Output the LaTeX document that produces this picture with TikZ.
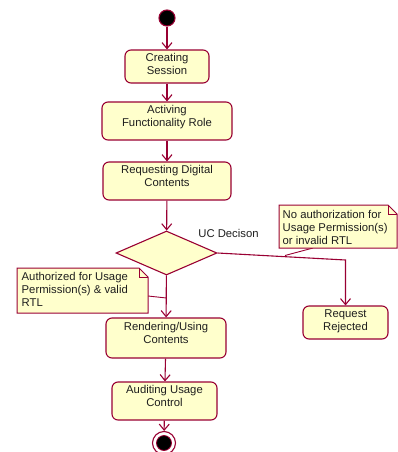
\documentclass[tikz,border=0pt]{standalone}
\usepackage{fontspec}
\setmainfont{Liberation Sans}
\usetikzlibrary{arrows.meta,shapes.geometric}
\definecolor{umlline}{RGB}{153,0,51}
\definecolor{umlfill}{RGB}{255,255,204}
\definecolor{umltext}{RGB}{30,30,30}
\begin{document}
\begin{tikzpicture}[x=1pt,y=-1pt,
  font=\fontsize{11.3}{13}\selectfont, text=umltext,
  activity/.style={draw=umlline, fill=umlfill, line width=1.1pt, rounded corners=6pt,
    inner sep=0pt},
  acttext/.style={anchor=north, align=center, inner sep=0pt},
  decision/.style={diamond, draw=umlline, fill=umlfill, line width=1.1pt, inner sep=0pt},
  flow/.style={draw=umlline, line width=1.1pt, -{Straight Barb[length=6pt,width=10pt,line width=1.1pt]}},
  noteshape/.style={draw=umlline, fill=umlfill, line width=1pt, line join=miter},
  notelink/.style={draw=umlline, line width=0.9pt},
  notetext/.style={anchor=west, align=left, inner sep=0pt}]
\useasboundingbox (0,0) rectangle (398,452);

% activity states; their labels sit near the top edge
\node[circle, draw=umlline, fill=black, line width=1.1pt, minimum size=16pt, inner sep=0pt] (start) at (167,18) {};
\node[activity, minimum width=84pt, minimum height=33pt] (cs) at (167,66.5) {};
\node[acttext] (cs-t) at ([yshift=-4pt]cs.north) {Creating\\Session};
\node[activity, minimum width=130pt, minimum height=38pt] (afr) at (167,121) {};
\node[acttext] (afr-t) at ([yshift=-4pt]afr.north) {Activing\\Functionality Role};
\node[activity, minimum width=128pt, minimum height=38pt] (rdc) at (167,181) {};
\node[acttext] (rdc-t) at ([yshift=-4pt]rdc.north) {Requesting Digital\\Contents};
\node[decision, minimum width=101pt, minimum height=44pt] (dec) at (166.5,253) {};
\node (declabel) at (228.5,233) {UC Decison};
\node[activity, minimum width=85pt, minimum height=33pt] (rr) at (345.5,322.5) {};
\node[acttext] (rr-t) at ([yshift=-4pt]rr.north) {Request\\Rejected};
\node[activity, minimum width=120pt, minimum height=40pt] (rend) at (166,338) {};
\node[acttext] (rend-t) at ([yshift=-4.5pt]rend.north) {Rendering/Using\\Contents};
\node[activity, minimum width=105pt, minimum height=38pt] (aud) at (164.5,401) {};
\node[acttext] (aud-t) at ([yshift=-4pt]aud.north) {Auditing Usage\\Control};
\node[circle, draw=umlline, fill=white, line width=1.1pt, minimum size=23pt, inner sep=0pt] (endo) at (164,443) {};
\node[circle, draw=umlline, fill=black, line width=0.8pt, minimum size=15pt, inner sep=0pt] (endi) at (164,443) {};

% transitions
\coordinate (turn) at (345.5,260);
\draw[flow] (start) -- (cs);
\draw[flow] (cs) -- (afr);
\draw[flow] (afr) -- (rdc);
\draw[flow] (rdc) -- (dec);
\draw[flow] (dec) -- (rend);
\draw[flow] (rend) -- (aud);
\draw[flow] (aud) -- (endo);
\draw[flow] (dec.east) -- (turn) -- (rr.north);

% guard notes
\coordinate (lnA) at (148,296);
\coordinate (lnB) at (166.5,298);
\coordinate (rnA) at (313,248);
\coordinate (rnB) at (285,255.5);
\draw[notelink] (lnA) -- (lnB);
\draw[notelink] (rnA) -- (rnB);

\path[noteshape] (17,268) -- (139,268) -- (148,277) -- (148,313) -- (17,313) -- cycle;
\draw[noteshape, fill=none] (139,268) -- (139,277) -- (148,277);
\node[notetext] (lnote) at (21.5,289) {Authorized for Usage\\Permission(s) \& valid\\RTL};

\path[noteshape] (279,205) -- (388,205) -- (397,214) -- (397,248) -- (279,248) -- cycle;
\draw[noteshape, fill=none] (388,205) -- (388,214) -- (397,214);
\node[notetext] (rnote) at (282.5,227) {No authorization for\\Usage Permission(s)\\or invalid RTL};
\end{tikzpicture}
\end{document}
